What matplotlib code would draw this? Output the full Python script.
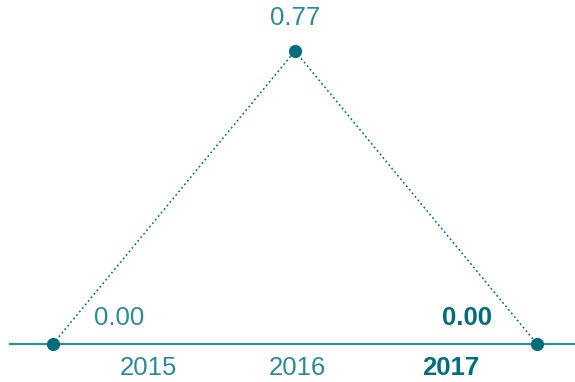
import matplotlib.pyplot as plt

years = [2015, 2016, 2017]
values = [0.00, 0.77, 0.00]
tick_labels = ["2015", "2016", "2017"]
highlight = 2017

DOT = "#006d7d"
TEXT = "#2a8a98"
BASE = "#2f909d"

plt.rcParams["font.family"] = ["Liberation Sans", "DejaVu Sans"]

fig = plt.figure(figsize=(5.75, 3.82), dpi=100)
ax = fig.add_axes([0, 0, 1, 1])
ax.set_xlim(2014.781, 2017.157)
ax.set_ylim(-0.0999, 0.904)
ax.axis("off")

# baseline
ax.axhline(0, xmin=10 / 575, xmax=1, color=BASE, linewidth=1.6, zorder=1)

# dotted connector and dots
ax.plot(years, values, color=DOT, linestyle=(0, (1.2, 1.8)), linewidth=1.1, zorder=2)
ax.scatter(years, values, s=9.5 ** 2, color=DOT, zorder=3, linewidths=0)

# value labels
label_dx = [0.275, 0.0, -0.29]
label_dy = [0.068, 0.086, 0.068]
for x, v, dx, dy in zip(years, values, label_dx, label_dy):
    bold = x == highlight
    ax.text(x + dx, v + dy, f"{v:.2f}", ha="center", va="center",
            fontsize=18.5, color=DOT if bold else TEXT,
            fontweight="bold" if bold else "normal")

# year labels sit on an evenly spaced band under the baseline
band_x = [148 / 575, 297 / 575, 451 / 575]
for bx, lab, yr in zip(band_x, tick_labels, years):
    bold = yr == highlight
    ax.text(bx, 14 / 382, lab, transform=ax.transAxes, ha="center", va="center",
            fontsize=18.5, color=DOT if bold else TEXT,
            fontweight="bold" if bold else "normal")

fig.savefig("out.png", dpi=100)
